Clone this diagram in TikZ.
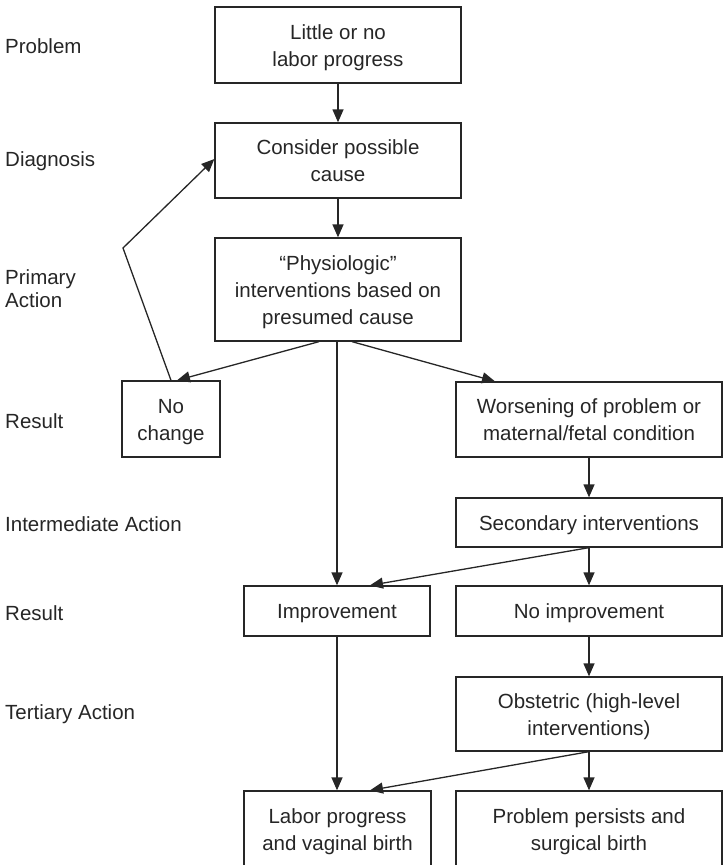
\documentclass[tikz,border=0pt]{standalone}
\usepackage{fontspec}
\setmainfont{Liberation Sans}
\usetikzlibrary{arrows.meta,calc}
\definecolor{ink}{HTML}{262626}
\tikzset{
  box/.style={draw=ink, line width=1.3pt, align=center, inner sep=0pt, text=ink,
    font=\fontsize{20.5pt}{27pt}\selectfont, text height=20pt, text depth=5pt},
  two/.style={text height=47pt},
  three/.style={text height=74pt},
  lab/.style={anchor=west, align=left, inner sep=0pt, text=ink,
    font=\fontsize{20.5pt}{23pt}\selectfont},
  arr/.style={draw=ink, line width=1.3pt, -{Triangle[length=13pt,width=11pt]}}
}
\begin{document}
\begin{tikzpicture}[x=1pt,y=-1pt]
\useasboundingbox (0,0) rectangle (723,865);
% boxes
\node[box, two, minimum width=246pt, minimum height=76pt] (b1) at (338,45) {Little or no\\labor progress};
\node[box, two, minimum width=246pt, minimum height=75pt] (b2) at (338,160.5) {Consider possible\\cause};
\node[box, three, minimum width=246pt, minimum height=103pt] (b3) at (338,289.5) {“Physiologic”\\interventions based on\\presumed cause};
\node[box, two, minimum width=98pt, minimum height=76pt] (nc) at (171,419) {No\\change};
\node[box, two, minimum width=266pt, minimum height=75pt] (w) at (589,419.5) {Worsening of problem or\\maternal/fetal condition};
\node[box, minimum width=266pt, minimum height=49pt] (s) at (589,522.5) {Secondary interventions};
\node[box, minimum width=186pt, minimum height=50pt] (imp) at (337,611) {Improvement};
\node[box, minimum width=266pt, minimum height=50pt] (ni) at (589,611) {No improvement};
\node[box, two, minimum width=266pt, minimum height=74pt] (ob) at (589,714) {Obstetric (high-level\\interventions)};
\node[box, two, minimum width=187pt, minimum height=76pt] (lb) at (337.5,829) {Labor progress\\and vaginal birth};
\node[box, two, minimum width=266pt, minimum height=76pt] (pp) at (589,829) {Problem persists and\\surgical birth};
% labels
\node[lab] (l1) at (5,46) {Problem};
\node[lab] (l2) at (5,161) {Diagnosis};
\node[lab] (l3) at (5,289) {Primary\\Action};
\node[lab] (l4) at (5,421) {Result};
\node[lab] (l5) at (5,524) {Intermediate Action};
\node[lab] (l6) at (5,613) {Result};
\node[lab] (l7) at (5,714) {Tertiary Action};
% connectors
\coordinate (bend) at (123,248);
\draw[arr] (b1.south) -- (b2.north);
\draw[arr] (b2.south) -- (b3.north);
\draw[arr] ([xshift=-19pt]b3.south) -- ([xshift=6pt]nc.north);
\draw[arr] ([xshift=14pt]b3.south) -- ([xshift=-94pt]w.north);
\draw[arr] ([xshift=-1pt]b3.south) -- (imp.north);
\draw[arr] (nc.north) -- (bend) -- ([yshift=1.5pt]b2.west);
\draw[arr] (w.south) -- (s.north);
\draw[arr] (s.south) -- (ni.north);
\draw[arr] (s.south) -- ([xshift=33pt]imp.north);
\draw[arr] (imp.south) -- ([xshift=-0.5pt]lb.north);
\draw[arr] (ni.south) -- (ob.north);
\draw[arr] (ob.south) -- (pp.north);
\draw[arr] (ob.south) -- ([xshift=32.5pt]lb.north);
\end{tikzpicture}
\end{document}
